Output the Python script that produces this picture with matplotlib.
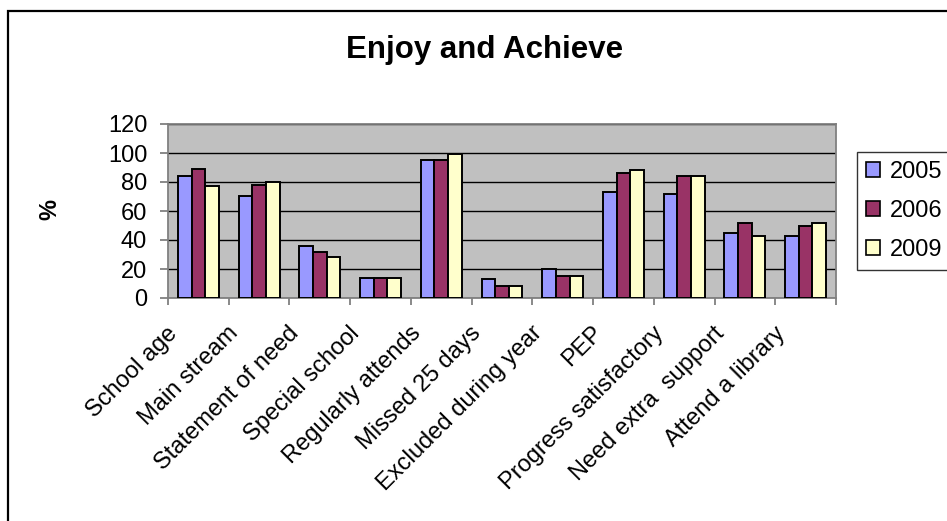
import numpy as np
import matplotlib.pyplot as plt
from matplotlib.patches import Rectangle, Patch
from matplotlib.transforms import ScaledTranslation

plt.rcParams['font.family'] = ['Liberation Sans', 'DejaVu Sans']

categories = ['School age', 'Main stream', 'Statement of need', 'Special school',
              'Regularly attends', 'Missed 25 days', 'Excluded during year', 'PEP',
              'Progress satisfactory', 'Need extra  support', 'Attend a library']
years = ['2005', '2006', '2009']
v2005 = [84, 70, 36, 14, 95, 13, 20, 73, 72, 45, 43]
v2006 = [89, 78, 32, 14, 95, 8, 15, 86, 84, 52, 50]
v2009 = [77, 80, 28, 14, 99, 8, 15, 88, 84, 43, 52]
colors = ['#9999FF', '#993366', '#FFFFCC']

fig = plt.figure(figsize=(9.47, 5.21), dpi=100)
W, H = 947, 521

# outer chart border (runs off the right and bottom edges)
fig.patches.append(Rectangle((7.5 / W, -0.1), 1.2, 1 - 10.5 / H + 0.1,
                             transform=fig.transFigure, fill=False,
                             edgecolor='black', linewidth=1.6))

ax = fig.add_axes([168 / W, (H - 298) / H, (836 - 168) / W, (298 - 124) / H])
ax.set_facecolor('#C0C0C0')

x = np.arange(len(categories))
w = 0.225
for i, (vals, c) in enumerate(zip([v2005, v2006, v2009], colors)):
    ax.bar(x + (i - 1) * w, vals, width=w, color=c, edgecolor='black',
           linewidth=1.4, zorder=3)

ax.set_xlim(-0.5, len(categories) - 0.5)
ax.set_ylim(0, 120)
ax.set_yticks(range(0, 121, 20))
ax.grid(axis='y', color='black', linewidth=1, zorder=1)
ax.set_axisbelow(True)
for s in ax.spines.values():
    s.set_color('#808080')
    s.set_linewidth(1.3)

ax.set_xticks(x)
ax.set_xticklabels(categories, rotation=45, ha='right', va='center',
                   rotation_mode='anchor', fontsize=17)
ax.tick_params(axis='x', length=0, pad=0)
shift = ScaledTranslation(-0.24, -0.32, fig.dpi_scale_trans)
for lbl in ax.get_xticklabels():
    lbl.set_transform(lbl.get_transform() + shift)
ax.set_xticks(np.arange(-0.5, len(categories), 1), minor=True)
ax.tick_params(axis='x', which='minor', length=5, color='#808080', width=1.3)
ax.tick_params(axis='y', labelsize=17, length=6, color='#808080', width=1.3, pad=9)

fig.text(50 / W, 1 - 209 / H, '%', rotation=90, ha='center', va='center',
         fontsize=17, fontweight='bold')

fig.text(485 / W, 1 - 50 / H, 'Enjoy and Achieve', ha='center', va='center',
         fontsize=22.5, fontweight='bold')

handles = [Patch(facecolor=c, edgecolor='black', linewidth=1.2) for c in colors]
leg = fig.legend(handles, years, loc='upper left',
                 bbox_to_anchor=(857 / W, 1 - 152 / H), fontsize=17,
                 frameon=True, fancybox=False, handlelength=0.6,
                 handleheight=0.6, handletextpad=0.4, labelspacing=0.72,
                 borderpad=0.38, borderaxespad=0)
leg.get_frame().set_edgecolor('black')
leg.get_frame().set_linewidth(1)

fig.savefig('out.png', dpi=100)
